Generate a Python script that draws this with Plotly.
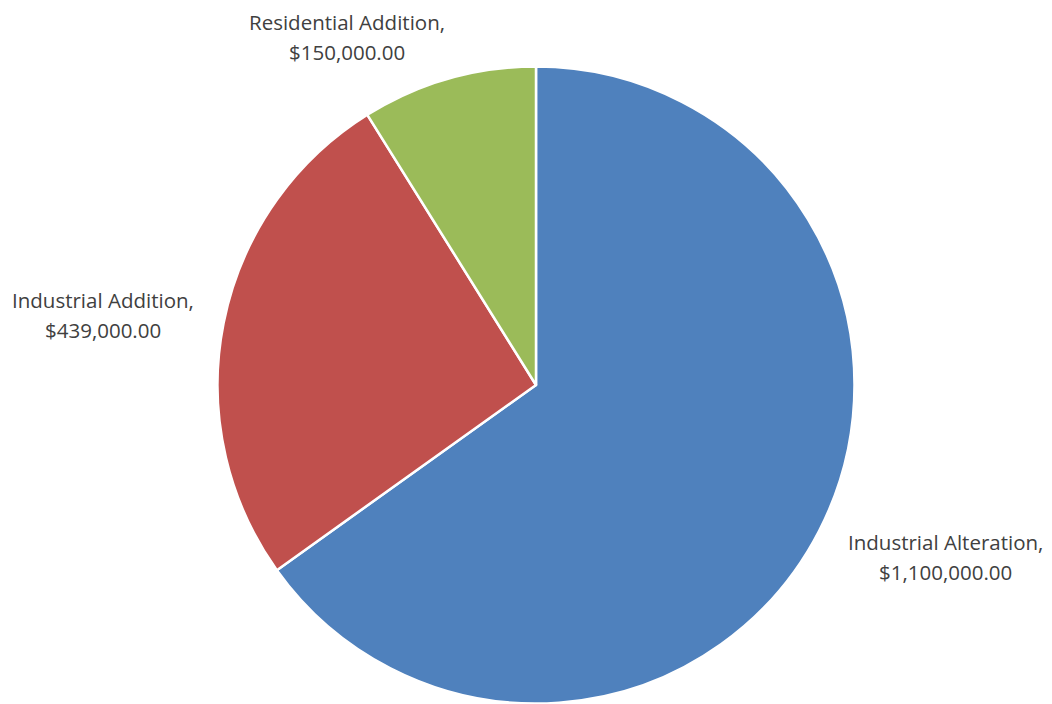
import plotly.graph_objects as go

categories = ["Industrial Alteration", "Industrial Addition", "Residential Addition"]
values = [1100000, 439000, 150000]
colors = ["#4F81BD", "#C0504D", "#9BBB59"]

# label block centers (pixels, from top-left), one per category
label_px_x = [945, 103, 347]
label_px_y = [557, 315, 37]

W, H = 1052, 704
cx, cy, R = 536, 385, 318.5  # pixel center / radius of the pie

dom_x = [max(0, (cx - R) / W), min(1, (cx + R) / W)]
dom_y = [max(0, (H - cy - R) / H), min(1, (H - cy + R) / H)]

fig = go.Figure(go.Pie(
    labels=categories, values=values, sort=False, direction="clockwise", rotation=0,
    marker=dict(colors=colors, line=dict(color="white", width=2.5)),
    textinfo="none", hoverinfo="label+value", showlegend=False,
    domain=dict(x=dom_x, y=dom_y),
))

LINE = 30
annotations = []
for cat, v, lx, ly in zip(categories, values, label_px_x, label_px_y):
    for i, line in enumerate([f"{cat},", f"${v:,.2f}"]):
        py = ly + (i - 0.5) * LINE
        annotations.append(dict(
            x=lx / W, y=(H - py) / H, xref="paper", yref="paper",
            text=line, showarrow=False, xanchor="center", yanchor="middle",
            font=dict(family="Open Sans", size=20.5, color="#404040"),
        ))

fig.update_layout(
    width=W, height=H, margin=dict(l=0, r=0, t=0, b=0),
    paper_bgcolor="white", plot_bgcolor="white",
    annotations=annotations,
)
fig.write_html("out.html")
